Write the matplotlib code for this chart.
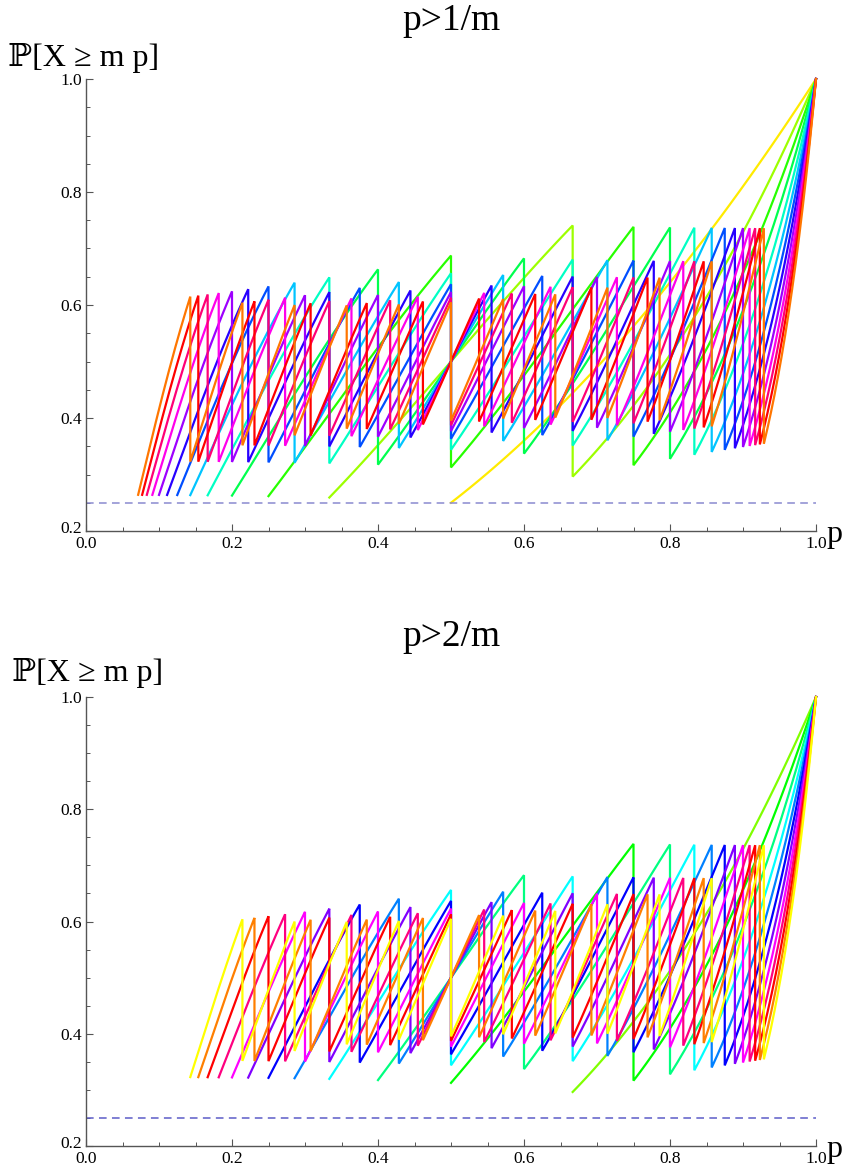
import colorsys
from math import comb
import numpy as np
import matplotlib
matplotlib.use("Agg")
import matplotlib.pyplot as plt
import matplotlib.transforms as mtransforms
from matplotlib.ticker import MultipleLocator

plt.rcParams["font.family"] = ["Liberation Serif", "DejaVu Serif", "DejaVu Sans"]

# panel settings: title, values of m, lower start k (p > k/m), hue divisor
titles = ["p>1/m", "p>2/m"]
m_top = list(range(2, 15))
m_bottom = list(range(3, 15))
start_k = [1, 2]
hue_div = [13, 12]
ref_level = 0.25
dash_colors = ["#8a8ad0", "#5c5cc8"]

x_ticks = [0.0, 0.2, 0.4, 0.6, 0.8, 1.0]
y_ticks = [0.2, 0.4, 0.6, 0.8, 1.0]


def tail(m, j, p):
    # P[X >= j] for X ~ Bin(m, p)
    return sum(comb(m, i) * p**i * (1 - p) ** (m - i) for i in range(j, m + 1))


def curve(m, k0):
    xs, ys = [], []
    for k in range(k0, m):
        p = np.linspace(k / m, (k + 1) / m, 60)
        xs.append(p)
        ys.append(tail(m, k + 1, p))
    return np.concatenate(xs), np.concatenate(ys)


fig = plt.figure(figsize=(8.43, 11.68), dpi=100)
W, H = 843, 1168

# pixel boxes: left, right, y(1.0), y(0.2)
boxes = [(86, 816, 79, 531), (86, 816, 697, 1146)]
ylab_pos = [(8, 66), (12, 681)]
title_y = [30, 646]

for idx, ms in enumerate([m_top, m_bottom]):
    l, r, t, b = boxes[idx]
    ax = fig.add_axes([l / W, 1 - b / H, (r - l) / W, (b - t) / H])
    for m in ms:
        x, y = curve(m, start_k[idx])
        h = (m / hue_div[idx]) % 1.0
        c = colorsys.hsv_to_rgb(h, 1, 1)
        ax.plot(x, y, color=c, lw=1.6, clip_on=False, solid_joinstyle="miter")
    ax.axhline(ref_level, color=dash_colors[idx], lw=1.1, ls=(0, (5, 3.5)))

    ax.set_xlim(0, 1)
    ax.set_ylim(0.2, 1.0)
    ax.set_xticks(x_ticks)
    ax.set_yticks(y_ticks)
    ax.set_xticklabels([f"{v:.1f}" for v in x_ticks])
    ax.set_yticklabels([f"{v:.1f}" for v in y_ticks])
    ax.xaxis.set_minor_locator(MultipleLocator(0.05))
    ax.yaxis.set_minor_locator(MultipleLocator(0.05))
    for s in ["top", "right"]:
        ax.spines[s].set_visible(False)
    for s in ["left", "bottom"]:
        ax.spines[s].set_color("#555555")
        ax.spines[s].set_linewidth(1.0)
    ax.tick_params(which="major", direction="in", length=5, width=0.8,
                   color="#555555", labelsize=12.5, pad=3)
    ax.tick_params(which="minor", direction="in", length=3, width=0.7,
                   color="#555555")
    ax.set_facecolor("none")

    # nudge the origin labels apart a little
    shift_up = mtransforms.ScaledTranslation(0, 4 / 100, fig.dpi_scale_trans)
    lab0 = ax.get_yticklabels()[0]
    lab0.set_transform(lab0.get_transform() + shift_up)
    shift_down = mtransforms.ScaledTranslation(0, -1 / 100, fig.dpi_scale_trans)
    for lab in ax.get_xticklabels():
        lab.set_transform(lab.get_transform() + shift_down)

    ax.annotate("p", xy=(1.0, 0.2), xycoords="data", xytext=(10, -11),
                textcoords="offset pixels", fontsize=23, ha="left",
                va="baseline", annotation_clip=False)

    fig.text((l + r) / 2 / W, 1 - title_y[idx] / H, titles[idx],
             fontsize=27, ha="center", va="baseline")
    lx, ly = ylab_pos[idx]
    fig.text(lx / W, 1 - ly / H, "ℙ[X ≥ m p]", fontsize=23,
             ha="left", va="baseline")

fig.savefig("out.png", dpi=100)
